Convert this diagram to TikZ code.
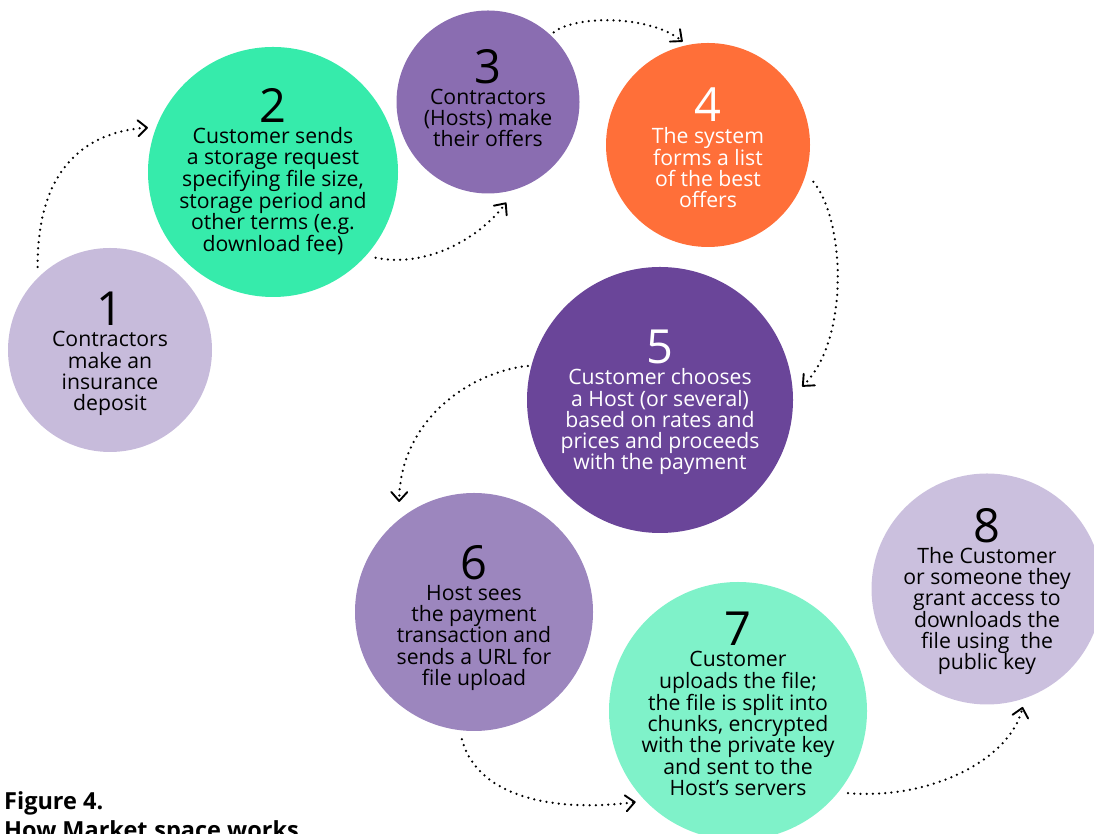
\documentclass[tikz,border=0pt]{standalone}
\usepackage{fontspec}
\setmainfont{Open Sans}
\usetikzlibrary{arrows.meta}
\definecolor{cone}{HTML}{C7BBDB}
\definecolor{ctwo}{HTML}{36EBAB}
\definecolor{cthree}{HTML}{8A6DB1}
\definecolor{cfour}{HTML}{FF6F39}
\definecolor{cfive}{HTML}{6A4599}
\definecolor{csix}{HTML}{9C86BE}
\definecolor{cseven}{HTML}{7FF2C9}
\definecolor{ceight}{HTML}{CBC0DE}
\newcommand{\dg}[1]{{\fontsize{47}{47}\selectfont #1}}
\begin{document}
\begin{tikzpicture}[x=1pt,y=1pt,
  disc/.style={circle, inner sep=0pt, draw=none},
  lab/.style={align=center, inner sep=0pt, anchor=north, font=\fontsize{21.2}{21.2}\selectfont},
  flow/.style={line width=2.5pt, line cap=round, dash pattern=on 0pt off 6.2pt,
    -{Straight Barb[length=9pt,width=16pt,line width=1.9pt,round]}},
  capt/.style={anchor=base west, inner sep=0pt, font=\bfseries\fontsize{23.5}{28}\selectfont}]
\useasboundingbox (0,0) rectangle (1094,834);
\clip (0,0) rectangle (1094,834);

% circles
\node[disc, fill=cone,   minimum size=204pt] (c1) at (110,484) {};
\node[disc, fill=ctwo,   minimum size=250pt] (c2) at (273,662) {};
\node[disc, fill=cthree, minimum size=183pt] (c3) at (488,732) {};
\node[disc, fill=cfour,  minimum size=204pt] (c4) at (708,689) {};
\node[disc, fill=cfive,  minimum size=266pt] (c5) at (660,434) {};
\node[disc, fill=csix,   minimum size=238pt] (c6) at (474,222) {};
\node[disc, fill=cseven, minimum size=258pt] (c7) at (738,123) {};
\node[disc, fill=ceight, minimum size=231pt] (c8) at (987,245) {};

% texts
\node[lab] (t1) at (110,542) {\dg{1}\\Contractors\\make an\\insurance\\deposit};
\node[lab] (t2) at (273,746) {\dg{2}\\Customer sends\\a storage request\\specifying file size,\\storage period and\\other terms (e.g.\\download fee)};
\node[lab] (t3) at (488,785) {\dg{3}\\Contractors\\(Hosts) make\\their offers};
\node[lab, text=white] (t4) at (708,746) {\dg{4}\\The system\\forms a list\\of the best\\offers};
\node[lab, text=white] (t5) at (660,504) {\dg{5}\\Customer chooses\\a Host (or several)\\based on rates and\\prices and proceeds\\with the payment};
\node[lab] (t6) at (474,289) {\dg{6}\\Host sees\\the payment\\transaction and\\sends a URL for\\file upload};
\node[lab] (t7) at (738,222) {\dg{7}\\Customer\\uploads the file;\\the file is split into\\chunks, encrypted\\with the private key\\and sent to the\\Host’s servers};
\node[lab] (t8) at (987,326) {\dg{8}\\The Customer\\or someone they\\grant access to\\downloads the\\file using\ \ the\\public key};

% connectors
\draw[flow, shorten <=10.8pt, shorten >=8.2pt] (c1.135.7) .. controls (37,659) and (80,702) .. (c2.159.1);
\draw[flow, shorten <=9.7pt, shorten >=16.7pt] (c2.-42.3) .. controls (425,566) and (478,594) .. (c3.-72.9);
\draw[flow, shorten <=4.1pt, shorten >=5.3pt] (c3.47.5) .. controls (575,819) and (650,819) .. (c4.102.5);
\draw[flow, shorten <=11.2pt, shorten >=12.6pt] (c4.-16.8) .. controls (845,614) and (850,494) .. (c5.2.8);
\draw[flow, shorten <=3.5pt, shorten >=17.4pt] (c5.165) .. controls (470,462) and (400,414) .. (c6.129.8);
\draw[flow, shorten <=9.2pt, shorten >=9.5pt] (c6.263.1) .. controls (478,34) and (560,22) .. (c7.224.8);
\draw[flow, shorten <=9.7pt, shorten >=8.8pt] (c7.-39.6) .. controls (930,34) and (1010,74) .. (c8.-71.4);

% caption
\node[capt] (cap1) at (4,24) {Figure 4.};
\node[capt] (cap2) at (4,-4.5) {How Market.space works};
\end{tikzpicture}
\end{document}
